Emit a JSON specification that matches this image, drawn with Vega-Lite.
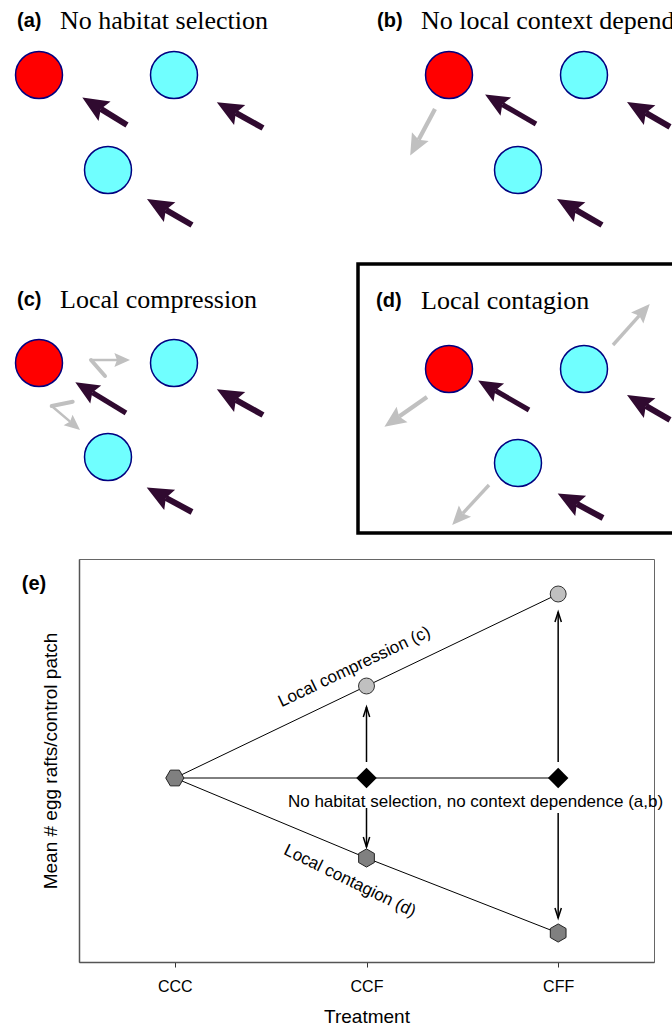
{
  "$schema": "https://vega.github.io/schema/vega-lite/v6.json",
  "padding": 0,
  "bounds": "flush",
  "spacing": 0,
  "config": {"font": "Liberation Sans", "view": {"stroke": null}, "axis": {"grid": false}},
  "datasets": {
    "patches": [
      {"x": 39, "y": 75, "p": "F"}, {"x": 174, "y": 75, "p": "C"}, {"x": 108, "y": 170, "p": "C"},
      {"x": 449, "y": 75, "p": "F"}, {"x": 584, "y": 75, "p": "C"}, {"x": 518, "y": 170, "p": "C"},
      {"x": 39, "y": 363, "p": "F"}, {"x": 174, "y": 363, "p": "C"}, {"x": 108, "y": 457, "p": "C"},
      {"x": 449, "y": 369, "p": "F"}, {"x": 584, "y": 369, "p": "C"}, {"x": 518, "y": 463, "p": "C"}
    ],
    "arrows": [
      {"x": 127, "y": 125, "x2": 100.8, "y2": 108.9, "k": "dark"},
      {"x": 263, "y": 128, "x2": 235.8, "y2": 112.9, "k": "dark"},
      {"x": 192, "y": 225, "x2": 165.8, "y2": 209.9, "k": "dark"},
      {"x": 536, "y": 124, "x2": 502.3, "y2": 104.5, "k": "thin"},
      {"x": 670, "y": 126.9, "x2": 645.8, "y2": 112.9, "k": "dark"},
      {"x": 602, "y": 225, "x2": 575.8, "y2": 209.9, "k": "dark"},
      {"x": 435, "y": 109, "x2": 418.6, "y2": 139.8, "k": "gray"},
      {"x": 126, "y": 413, "x2": 92.3, "y2": 392.5, "k": "thin"},
      {"x": 263, "y": 415, "x2": 235.8, "y2": 399.9, "k": "dark"},
      {"x": 192, "y": 512, "x2": 165.8, "y2": 497.9, "k": "dark"},
      {"x": 91, "y": 360, "x2": 117, "y2": 360, "k": "zig"},
      {"x": 51.7, "y": 406, "x2": 70.1, "y2": 421.6, "k": "zig"},
      {"x": 529, "y": 410, "x2": 495.3, "y2": 390.5, "k": "thin"},
      {"x": 670, "y": 419.9, "x2": 645.8, "y2": 405.9, "k": "dark"},
      {"x": 603, "y": 518, "x2": 576.8, "y2": 503.9, "k": "dark"},
      {"x": 427, "y": 397, "x2": 399.1, "y2": 416.5, "k": "gray"},
      {"x": 613, "y": 345, "x2": 639.3, "y2": 315.7, "k": "graythin"},
      {"x": 489, "y": 485, "x2": 462.8, "y2": 513.4, "k": "graythin"}
    ],
    "zigsegs": [
      {"x": 105, "y": 376, "x2": 91, "y2": 360},
      {"x": 72.7, "y": 401.7, "x2": 51.7, "y2": 406}
    ],
    "tags": [
      {"x": 17, "y": 27, "t": "(a)"}, {"x": 377, "y": 27, "t": "(b)"},
      {"x": 17, "y": 306, "t": "(c)"}, {"x": 376, "y": 307, "t": "(d)"}
    ],
    "headings": [
      {"x": 60, "y": 29, "t": "No habitat selection"},
      {"x": 421, "y": 29, "t": "No local context dependence"},
      {"x": 60, "y": 308, "t": "Local compression"},
      {"x": 421, "y": 309, "t": "Local contagion"}
    ],
    "boxes": [{"x": 358, "y": 264, "x2": 700, "y2": 533}],
    "means": [
      {"series": "compression", "treatment": "CCC", "v": 1.84},
      {"series": "compression", "treatment": "CCF", "v": 2.76},
      {"series": "compression", "treatment": "CFF", "v": 3.68},
      {"series": "none", "treatment": "CCC", "v": 1.84},
      {"series": "none", "treatment": "CCF", "v": 1.84},
      {"series": "none", "treatment": "CFF", "v": 1.84},
      {"series": "contagion", "treatment": "CCC", "v": 1.84},
      {"series": "contagion", "treatment": "CCF", "v": 1.04},
      {"series": "contagion", "treatment": "CFF", "v": 0.29}
    ],
    "shifts": [
      {"treatment": "CCF", "v": 2.0, "v2": 2.55, "dir": "up"},
      {"treatment": "CFF", "v": 2.0, "v2": 3.5, "dir": "up"},
      {"treatment": "CCF", "v": 1.54, "v2": 1.15, "dir": "down"},
      {"treatment": "CFF", "v": 1.49, "v2": 0.44, "dir": "down"}
    ]
  },
  "vconcat": [
    {
      "width": 593,
      "height": 559,
      "view": {"stroke": null},
      "layer": [
        {
          "data": {"values": [{}]},
          "mark": {"type": "rect", "opacity": 0},
          "encoding": {
            "x": {"datum": 0, "type": "quantitative", "scale": {"domain": [79, 672], "nice": false, "zero": false}, "axis": null},
            "x2": {"datum": 1},
            "y": {"datum": 0, "type": "quantitative", "scale": {"domain": [0, 559], "nice": false, "zero": false, "reverse": true}, "axis": null},
            "y2": {"datum": 1}
          }
        },
        {
          "data": {"name": "boxes"},
          "mark": {"type": "rect", "filled": false, "stroke": "#000000", "strokeWidth": 3.5, "clip": true},
          "encoding": {
            "x": {"field": "x", "type": "quantitative", "scale": {"domain": [79, 672], "nice": false, "zero": false}, "axis": null},
            "x2": {"field": "x2"},
            "y": {"field": "y", "type": "quantitative", "scale": {"domain": [0, 559], "nice": false, "zero": false, "reverse": true}, "axis": null},
            "y2": {"field": "y2"}
          }
        },
        {
          "data": {"name": "patches"},
          "mark": {"type": "point", "shape": "circle", "filled": true, "opacity": 1, "size": 2206, "stroke": "#000080", "strokeWidth": 1.5},
          "encoding": {
            "x": {"field": "x", "type": "quantitative", "scale": {"domain": [79, 672], "nice": false, "zero": false}, "axis": null},
            "y": {"field": "y", "type": "quantitative", "scale": {"domain": [0, 559], "nice": false, "zero": false, "reverse": true}, "axis": null},
            "fill": {"field": "p", "type": "nominal", "scale": {"domain": ["F", "C"], "range": ["#ff0000", "#70ffff"]}, "legend": null}
          }
        },
        {
          "data": {"name": "zigsegs"},
          "mark": {"type": "rule", "color": "#c0c0c0", "strokeWidth": 4, "strokeCap": "round"},
          "encoding": {
            "x": {"field": "x", "type": "quantitative", "scale": {"domain": [79, 672], "nice": false, "zero": false}, "axis": null},
            "x2": {"field": "x2"},
            "y": {"field": "y", "type": "quantitative", "scale": {"domain": [0, 559], "nice": false, "zero": false, "reverse": true}, "axis": null},
            "y2": {"field": "y2"}
          }
        },
        {
          "data": {"name": "arrows"},
          "mark": {"type": "rule", "strokeCap": "butt"},
          "encoding": {
            "x": {"field": "x", "type": "quantitative", "scale": {"domain": [79, 672], "nice": false, "zero": false}, "axis": null},
            "x2": {"field": "x2"},
            "y": {"field": "y", "type": "quantitative", "scale": {"domain": [0, 559], "nice": false, "zero": false, "reverse": true}, "axis": null},
            "y2": {"field": "y2"},
            "color": {"field": "k", "type": "nominal", "scale": {"domain": ["dark", "thin", "gray", "graythin", "zig"], "range": ["#300a30", "#300a30", "#c0c0c0", "#c0c0c0", "#c0c0c0"]}, "legend": null},
            "strokeWidth": {"field": "k", "type": "ordinal", "scale": {"domain": ["dark", "thin", "gray", "graythin", "zig"], "range": [6, 2.5, 5, 3, 4]}, "legend": null}
          }
        },
        {
          "data": {"name": "arrows"},
          "transform": [{"calculate": "atan2(datum.x2 - datum.x, datum.y - datum.y2) * 180 / PI", "as": "ang"}],
          "mark": {"type": "point", "shape": "M0,-2.17L1.15,0.44L0,0L-1.15,0.44Z", "filled": true, "opacity": 1, "strokeWidth": 0},
          "encoding": {
            "x": {"field": "x2", "type": "quantitative", "scale": {"domain": [79, 672], "nice": false, "zero": false}, "axis": null},
            "y": {"field": "y2", "type": "quantitative", "scale": {"domain": [0, 559], "nice": false, "zero": false, "reverse": true}, "axis": null},
            "angle": {"field": "ang", "type": "quantitative", "scale": null},
            "color": {"field": "k", "type": "nominal", "scale": {"domain": ["dark", "thin", "gray", "graythin", "zig"], "range": ["#300a30", "#300a30", "#c0c0c0", "#c0c0c0", "#c0c0c0"]}, "legend": null},
            "size": {"field": "k", "type": "ordinal", "scale": {"domain": ["dark", "thin", "gray", "graythin", "zig"], "range": [400, 144, 289, 144, 144]}, "legend": null}
          }
        },
        {
          "data": {"name": "tags"},
          "mark": {"type": "text", "font": "Liberation Sans", "fontWeight": "bold", "fontSize": 20, "align": "left", "baseline": "alphabetic", "color": "#000000"},
          "encoding": {
            "x": {"field": "x", "type": "quantitative", "scale": {"domain": [79, 672], "nice": false, "zero": false}, "axis": null},
            "y": {"field": "y", "type": "quantitative", "scale": {"domain": [0, 559], "nice": false, "zero": false, "reverse": true}, "axis": null},
            "text": {"field": "t"}
          }
        },
        {
          "data": {"name": "headings"},
          "transform": [{"filter": "datum.x < 300"}],
          "mark": {"type": "text", "font": "Liberation Serif", "fontSize": 26, "align": "left", "baseline": "alphabetic", "color": "#000000"},
          "encoding": {
            "x": {"field": "x", "type": "quantitative", "scale": {"domain": [79, 672], "nice": false, "zero": false}, "axis": null},
            "y": {"field": "y", "type": "quantitative", "scale": {"domain": [0, 559], "nice": false, "zero": false, "reverse": true}, "axis": null},
            "text": {"field": "t"}
          }
        },
        {
          "data": {"name": "headings"},
          "transform": [{"filter": "datum.x >= 300"}],
          "mark": {"type": "text", "font": "Liberation Serif", "fontSize": 26, "align": "left", "baseline": "alphabetic", "color": "#000000", "clip": true},
          "encoding": {
            "x": {"field": "x", "type": "quantitative", "scale": {"domain": [79, 672], "nice": false, "zero": false}, "axis": null},
            "y": {"field": "y", "type": "quantitative", "scale": {"domain": [0, 559], "nice": false, "zero": false, "reverse": true}, "axis": null},
            "text": {"field": "t"}
          }
        }
      ]
    },
    {
      "width": 575,
      "height": 403,
      "view": {"stroke": "#666666", "strokeWidth": 1},
      "resolve": {"scale": {"x": "independent"}},
      "layer": [
        {
          "layer": [
            {
              "data": {"name": "means"},
              "mark": {"type": "line", "color": "#000000", "strokeWidth": 1},
              "encoding": {
                "x": {"field": "treatment", "type": "ordinal", "scale": {"type": "point", "padding": 0.5, "domain": ["CCC", "CCF", "CFF"]}, "title": "Treatment",
                  "axis": {"domainColor": "#555555", "domainWidth": 1.5, "tickColor": "#333333", "tickSize": 5, "labelFontSize": 16, "labelColor": "#000000", "labelPadding": 11, "labelAngle": 0, "titleFontSize": 19, "titleFontWeight": "normal", "titleColor": "#000000", "titlePadding": 13}},
                "y": {"field": "v", "type": "quantitative", "scale": {"domain": [0, 4.03], "nice": false, "zero": false}, "title": "Mean # egg rafts/control patch",
                  "axis": {"domainColor": "#555555", "domainWidth": 1.5, "ticks": false, "labels": false, "titleFontSize": 19, "titleFontWeight": "normal", "titleColor": "#000000", "titlePadding": 19}},
                "detail": {"field": "series", "type": "nominal"}
              }
            },
            {
              "data": {"name": "shifts"},
              "mark": {"type": "rule", "color": "#000000", "strokeWidth": 1.5},
              "encoding": {
                "x": {"field": "treatment", "type": "ordinal", "scale": {"type": "point", "padding": 0.5, "domain": ["CCC", "CCF", "CFF"]}, "title": "Treatment"},
                "y": {"field": "v", "type": "quantitative", "scale": {"domain": [0, 4.03], "nice": false, "zero": false}, "title": "Mean # egg rafts/control patch"},
                "y2": {"field": "v2"}
              }
            },
            {
              "data": {"name": "shifts"},
              "mark": {"type": "point", "filled": false, "opacity": 1, "color": "#000000", "strokeWidth": 1.5, "size": 400},
              "encoding": {
                "x": {"field": "treatment", "type": "ordinal", "scale": {"type": "point", "padding": 0.5, "domain": ["CCC", "CCF", "CFF"]}, "title": "Treatment"},
                "y": {"field": "v2", "type": "quantitative", "scale": {"domain": [0, 4.03], "nice": false, "zero": false}, "title": "Mean # egg rafts/control patch"},
                "shape": {"field": "dir", "type": "nominal", "scale": {"domain": ["up", "down"], "range": ["M-0.32,1L0,0L0.32,1", "M-0.32,-1L0,0L0.32,-1"]}, "legend": null}
              }
            },
            {
              "data": {"name": "means"},
              "transform": [{"filter": "datum.series === 'compression' && datum.treatment !== 'CCC'"}],
              "mark": {"type": "point", "shape": "circle", "filled": true, "opacity": 1, "fill": "#c0c0c0", "stroke": "#333333", "strokeWidth": 1, "size": 254},
              "encoding": {
                "x": {"field": "treatment", "type": "ordinal", "scale": {"type": "point", "padding": 0.5, "domain": ["CCC", "CCF", "CFF"]}, "title": "Treatment"},
                "y": {"field": "v", "type": "quantitative", "scale": {"domain": [0, 4.03], "nice": false, "zero": false}, "title": "Mean # egg rafts/control patch"}
              }
            },
            {
              "data": {"name": "means"},
              "transform": [{"filter": "datum.series === 'none' && datum.treatment !== 'CCC'"}],
              "mark": {"type": "point", "shape": "diamond", "filled": true, "opacity": 1, "fill": "#000000", "size": 420},
              "encoding": {
                "x": {"field": "treatment", "type": "ordinal", "scale": {"type": "point", "padding": 0.5, "domain": ["CCC", "CCF", "CFF"]}, "title": "Treatment"},
                "y": {"field": "v", "type": "quantitative", "scale": {"domain": [0, 4.03], "nice": false, "zero": false}, "title": "Mean # egg rafts/control patch"}
              }
            },
            {
              "data": {"name": "means"},
              "transform": [{"filter": "datum.series === 'contagion'"}],
              "mark": {"type": "point", "filled": true, "opacity": 1, "fill": "#808080", "stroke": "#222222", "strokeWidth": 1, "size": 330},
              "encoding": {
                "x": {"field": "treatment", "type": "ordinal", "scale": {"type": "point", "padding": 0.5, "domain": ["CCC", "CCF", "CFF"]}, "title": "Treatment"},
                "y": {"field": "v", "type": "quantitative", "scale": {"domain": [0, 4.03], "nice": false, "zero": false}, "title": "Mean # egg rafts/control patch"},
                "shape": {"condition": {"test": "datum.treatment === 'CCC'", "value": "M-1,0L-0.5,-0.866L0.5,-0.866L1,0L0.5,0.866L-0.5,0.866Z"}, "value": "M0,-1L0.866,-0.5L0.866,0.5L0,1L-0.866,0.5L-0.866,-0.5Z"}
              }
            }
          ]
        },
        {
          "data": {"values": [{"ax": -0.735, "v": 3.78, "t": "(e)"}]},
          "mark": {"type": "text", "fontWeight": "bold", "fontSize": 20, "align": "center", "baseline": "middle", "color": "#000000"},
          "encoding": {
            "x": {"field": "ax", "type": "quantitative", "scale": {"domain": [-0.5, 2.5], "nice": false, "zero": false}, "axis": null},
            "y": {"field": "v", "type": "quantitative", "scale": {"domain": [0, 4.03], "nice": false, "zero": false}, "title": "Mean # egg rafts/control patch"},
            "text": {"field": "t"}
          }
        },
        {
          "data": {"values": [{"ax": 0.948, "v": 2.905, "t": "Local compression (c)"}]},
          "mark": {"type": "text", "fontSize": 17, "align": "center", "baseline": "alphabetic", "angle": 334.5, "color": "#000000"},
          "encoding": {
            "x": {"field": "ax", "type": "quantitative", "scale": {"domain": [-0.5, 2.5], "nice": false, "zero": false}, "axis": null},
            "y": {"field": "v", "type": "quantitative", "scale": {"domain": [0, 4.03], "nice": false, "zero": false}, "title": "Mean # egg rafts/control patch"},
            "text": {"field": "t"}
          }
        },
        {
          "data": {"values": [{"ax": 0.902, "v": 0.765, "t": "Local contagion (d)"}]},
          "mark": {"type": "text", "fontSize": 17, "align": "center", "baseline": "alphabetic", "angle": 26, "color": "#000000"},
          "encoding": {
            "x": {"field": "ax", "type": "quantitative", "scale": {"domain": [-0.5, 2.5], "nice": false, "zero": false}, "axis": null},
            "y": {"field": "v", "type": "quantitative", "scale": {"domain": [0, 4.03], "nice": false, "zero": false}, "title": "Mean # egg rafts/control patch"},
            "text": {"field": "t"}
          }
        },
        {
          "data": {"values": [{"ax": 1.569, "v": 1.6, "t": "No habitat selection, no context dependence (a,b)"}]},
          "mark": {"type": "text", "fontSize": 17, "align": "center", "baseline": "middle", "color": "#000000"},
          "encoding": {
            "x": {"field": "ax", "type": "quantitative", "scale": {"domain": [-0.5, 2.5], "nice": false, "zero": false}, "axis": null},
            "y": {"field": "v", "type": "quantitative", "scale": {"domain": [0, 4.03], "nice": false, "zero": false}, "title": "Mean # egg rafts/control patch"},
            "text": {"field": "t"}
          }
        }
      ]
    }
  ]
}
